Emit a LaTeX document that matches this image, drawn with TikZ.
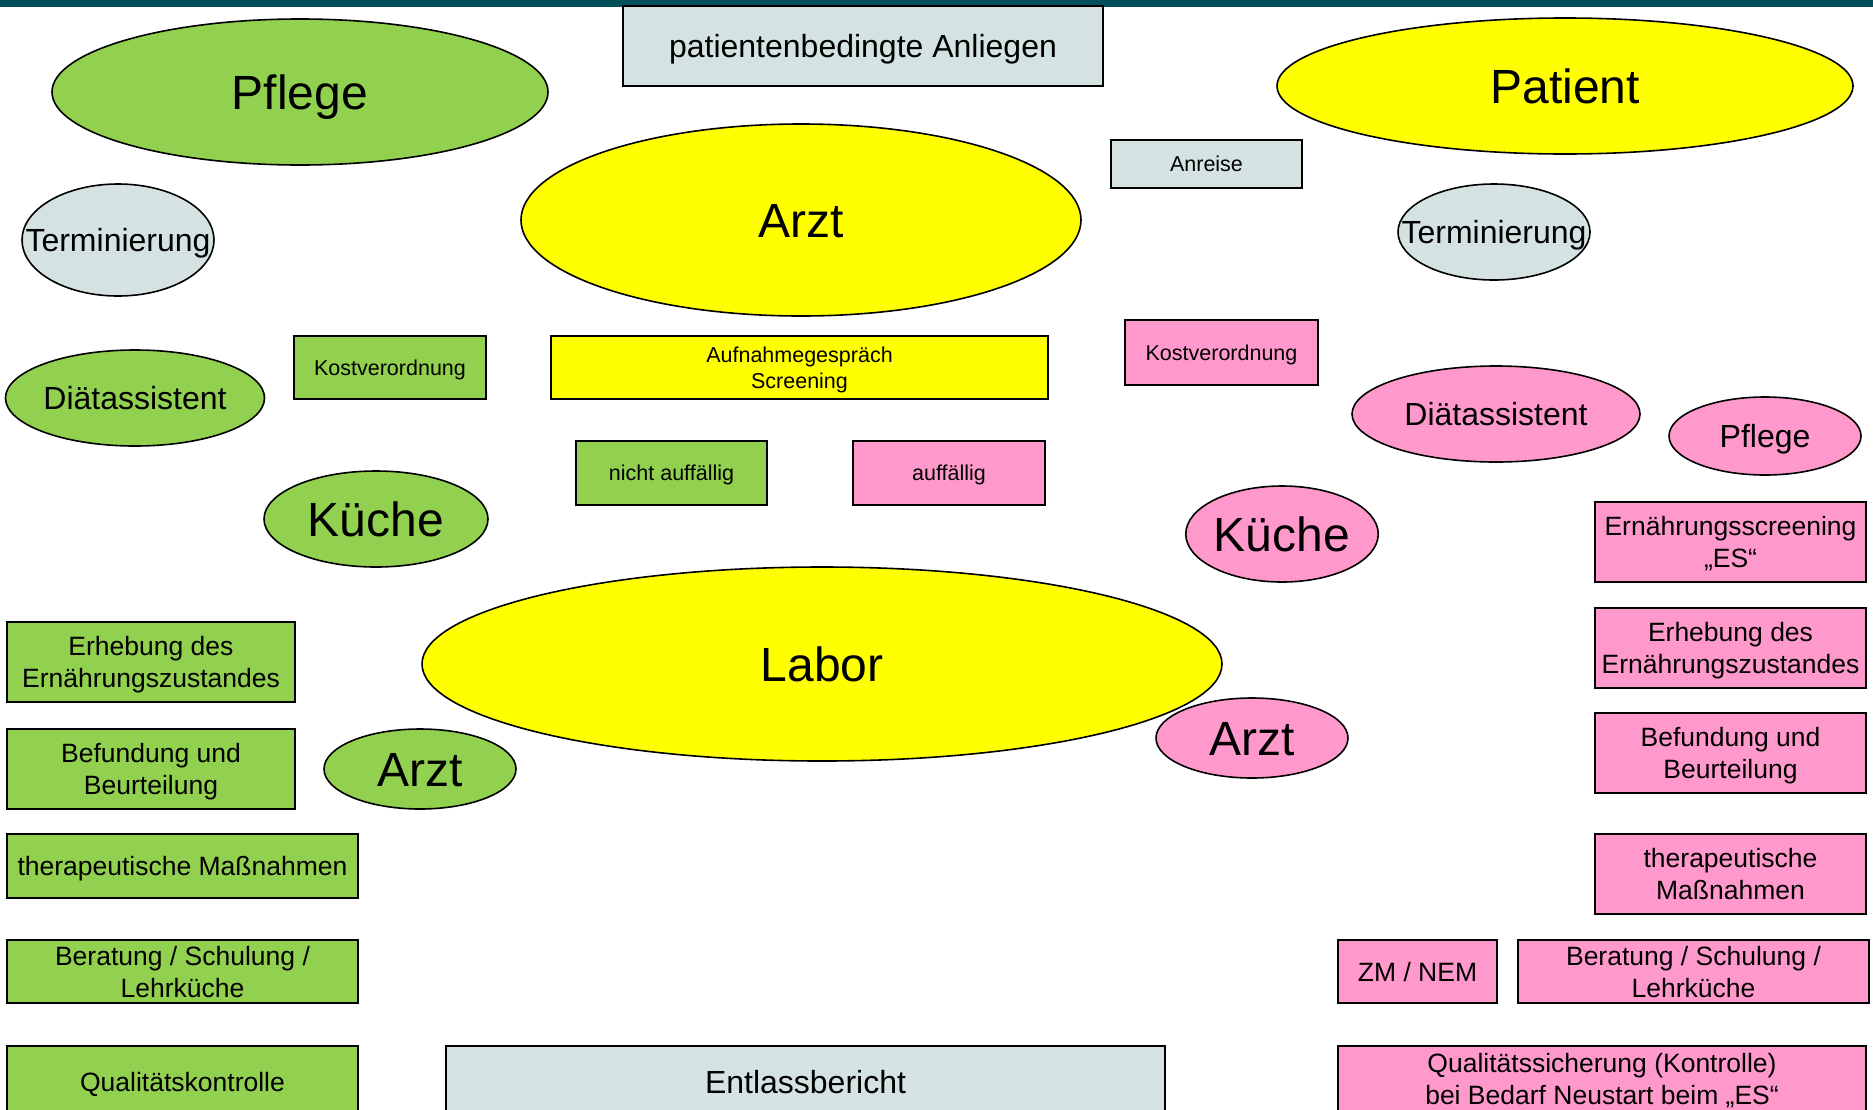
\documentclass[tikz,border=0pt]{standalone}
\usepackage{fontspec}
\setmainfont{Liberation Sans}
\usetikzlibrary{shapes.geometric}
\definecolor{cgreen}{HTML}{92D050}
\definecolor{cyellow}{HTML}{FFFF00}
\definecolor{cpink}{HTML}{FF99CC}
\definecolor{cgrey}{HTML}{D4E2E2}
\definecolor{cbar}{HTML}{004F5A}
\tikzset{
  rbox/.style={draw=black, line width=2pt, rectangle, inner sep=0pt, align=center, font=\fontsize{26.5}{32}\selectfont, text height=19.6pt, text depth=0.6pt},
  rboxtwo/.style={rbox, text height=51.6pt},
  sbox/.style={rbox, font=\fontsize{21.5}{26}\selectfont, text height=16pt, text depth=0.5pt},
  sboxtwo/.style={sbox, text height=42pt},
  ell/.style={draw=black, line width=1.6pt, ellipse, inner sep=0pt, align=center},
  big/.style={font=\fontsize{48}{56}\selectfont, text height=35.5pt, text depth=1pt},
  mid/.style={font=\fontsize{32}{38}\selectfont, text height=23.7pt, text depth=0.7pt},
  gr/.style={fill=cgreen}, ye/.style={fill=cyellow}, pk/.style={fill=cpink}, gy/.style={fill=cgrey}
}
\begin{document}
\begin{tikzpicture}[x=1pt,y=-1pt]
\useasboundingbox (0,0) rectangle (1873,1109);
\clip (0,0) rectangle (1873,1109);
\fill[white] (0,0) rectangle (1873,1109);
\fill[cbar] (0,0) rectangle (1873,7);
% ellipses
\node[ell,gr,big,minimum width=496pt,minimum height=146pt] (pflegeG) at (300,92) {Pflege};
\node[ell,ye,big,minimum width=576pt,minimum height=136pt] (patient) at (1565,86) {Patient};
\node[ell,ye,big,minimum width=560pt,minimum height=192pt] (arztY) at (801,220) {Arzt};
\node[ell,gy,mid,minimum width=192pt,minimum height=112pt] (termL) at (118,240) {\makebox[0pt]{Terminierung}};
\node[ell,gy,mid,minimum width=192pt,minimum height=96pt] (termR) at (1494,232) {\makebox[0pt]{Terminierung}};
\node[ell,gr,mid,minimum width=256pt,minimum height=96pt] (diaG) at (135,398) {Diätassistent};
\node[ell,pk,mid,minimum width=288pt,minimum height=96pt] (diaP) at (1496,414) {Diätassistent};
\node[ell,pk,mid,minimum width=192pt,minimum height=78pt] (pflegeP) at (1765,436) {Pflege};
\node[ell,gr,big,minimum width=224pt,minimum height=96pt] (kuecheG) at (376,519) {Küche};
\node[ell,pk,big,minimum width=192pt,minimum height=96pt] (kuecheP) at (1282,534) {Küche};
\node[ell,ye,big,minimum width=800pt,minimum height=194pt] (labor) at (822,664) {Labor};
\node[ell,gr,big,minimum width=192pt,minimum height=80pt] (arztG) at (420,769) {Arzt};
\node[ell,pk,big,minimum width=192pt,minimum height=80pt] (arztP) at (1252,738) {Arzt};
% boxes
\node[rbox,gy,mid,minimum width=480pt,minimum height=80pt] (anliegen) at (863,46) {patientenbedingte Anliegen};
\node[sbox,gy,minimum width=191pt,minimum height=48pt] (anreise) at (1206.5,164) {Anreise};
\node[sbox,gr,minimum width=192pt,minimum height=63pt] (kostG) at (390,367.5) {Kostverordnung};
\node[sboxtwo,ye,minimum width=497pt,minimum height=63pt] (aufnahme) at (799.5,367.5) {Aufnahmegespräch\\Screening};
\node[sbox,pk,minimum width=193pt,minimum height=65pt] (kostP) at (1221.5,352.5) {Kostverordnung};
\node[sbox,gr,minimum width=191pt,minimum height=64pt] (nichtauff) at (671.5,473) {nicht auffällig};
\node[sbox,pk,minimum width=192pt,minimum height=64pt] (auff) at (949,473) {auffällig};
\node[rboxtwo,pk,minimum width=271pt,minimum height=80pt] (esP) at (1730.5,542) {Ernährungsscreening\\„ES“};
\node[rboxtwo,gr,minimum width=288pt,minimum height=80pt] (erhebG) at (151,662) {Erhebung des\\Ernährungszustandes};
\node[rboxtwo,pk,minimum width=271pt,minimum height=80pt] (erhebP) at (1730.5,648) {Erhebung des\\Ernährungszustandes};
\node[rboxtwo,gr,minimum width=288pt,minimum height=80pt] (befG) at (151,769) {Befundung und\\Beurteilung};
\node[rboxtwo,pk,minimum width=271pt,minimum height=80pt] (befP) at (1730.5,753) {Befundung und\\Beurteilung};
\node[rbox,gr,minimum width=351pt,minimum height=64pt] (therG) at (182.5,866) {therapeutische Maßnahmen};
\node[rboxtwo,pk,minimum width=271pt,minimum height=80pt] (therP) at (1730.5,874) {therapeutische\\Maßnahmen};
\node[rboxtwo,gr,minimum width=351pt,minimum height=63pt] (berG) at (182.5,971.5) {Beratung / Schulung /\\Lehrküche};
\node[rbox,pk,minimum width=159pt,minimum height=63pt] (zm) at (1417.5,971.5) {ZM / NEM};
\node[rboxtwo,pk,minimum width=351pt,minimum height=63pt] (berP) at (1693.5,971.5) {Beratung / Schulung /\\Lehrküche};
\node[rbox,gr,minimum width=351pt,minimum height=72pt] (qualG) at (182.5,1082) {Qualitätskontrolle};
\node[rbox,gy,mid,minimum width=719pt,minimum height=72pt] (entlass) at (805.5,1082) {Entlassbericht};
\node[rboxtwo,pk,minimum width=528pt,minimum height=72pt,text height=45pt] (qualP) at (1602,1082) {Qualitätssicherung (Kontrolle)\\bei Bedarf Neustart beim „ES“};
\end{tikzpicture}
\end{document}
